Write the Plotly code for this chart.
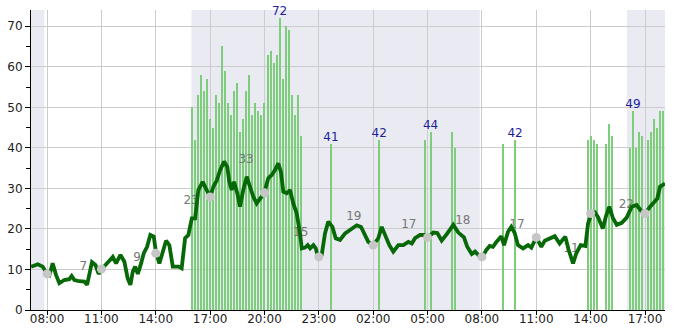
import pandas as pd
import plotly.graph_objects as go

BASE = pd.Timestamp("2024-01-15")

# ---- mean wind line (hours since day-1 midnight, value) ----
line_hours = [7.12, 7.49, 7.76, 8.0, 8.13, 8.31, 8.50, 8.68, 8.95, 9.23, 9.36, 9.51, 9.78, 10.06,
              10.21, 10.33, 10.48, 10.67, 10.85, 11.02, 11.35, 11.63, 11.81, 12.05, 12.27, 12.45,
              12.60, 12.73, 12.86, 13.01, 13.19, 13.34, 13.52, 13.70, 13.89, 14.02, 14.20, 14.39,
              14.57, 14.75, 14.94, 15.25, 15.43, 15.62, 15.80, 15.99, 16.17, 16.35, 16.59, 16.81,
              17.0, 17.18, 17.37, 17.55, 17.77, 17.95, 18.06, 18.19, 18.32, 18.50, 18.65, 18.83,
              19.02, 19.20, 19.39, 19.57, 19.76, 19.99, 20.21, 20.40, 20.58, 20.76, 20.91, 21.04,
              21.23, 21.41, 21.59, 21.78, 21.96, 22.06, 22.24, 22.39, 22.52, 22.70, 22.83, 22.95,
              23.16, 23.34, 23.52, 23.75, 23.93, 24.17, 24.45, 24.82, 25.09, 25.33, 25.55, 25.73,
              26.01, 26.28, 26.47, 26.65, 26.89, 27.11, 27.39, 27.66, 27.94, 28.13, 28.31, 28.59,
              28.81, 29.04, 29.32, 29.54, 29.78, 30.06, 30.42, 30.70, 31.01, 31.19, 31.44, 31.62,
              31.80, 32.03, 32.24, 32.43, 32.61, 32.80, 33.07, 33.22, 33.44, 33.62, 33.81, 33.99,
              34.27, 34.55, 34.73, 35.00, 35.28, 35.47, 35.74, 36.02, 36.29, 36.60, 36.79, 37.03,
              37.21, 37.45, 37.71, 37.86, 38.05, 38.24, 38.42, 38.67, 38.85, 39.03, 39.22, 39.44,
              39.72, 39.99, 40.27, 40.54, 40.76, 41.00, 41.28, 41.55, 41.68, 41.83, 42.10]
line_values = [10.7, 11.3, 10.7, 8.9, 8.6, 11.5, 8.6, 6.6, 7.4, 7.6, 8.4, 7.4, 7.1, 7.0,
               6.2, 9.0, 11.8, 11.1, 8.9, 10.1, 11.9, 13.1, 11.5, 13.6, 11.9, 7.8,
               6.2, 9.4, 10.7, 8.9, 11.5, 14.0, 15.6, 18.5, 18.1, 14.0, 11.5, 14.0,
               17.1, 16.0, 10.7, 10.7, 10.3, 17.7, 18.5, 22.6, 22.6, 29.6, 31.6, 29.6,
               27.9, 30.4, 32.0, 34.5, 36.6, 35.3, 31.6, 29.6, 31.6, 28.8, 25.5, 29.6,
               32.9, 30.4, 27.9, 26.3, 27.5, 28.9, 32.5, 33.3, 34.5, 36.2, 34.0, 29.2,
               28.8, 29.6, 26.3, 23.8, 18.9, 15.2, 15.4, 16.0, 15.2, 16.0, 15.2, 13.1,
               13.6, 18.9, 21.8, 20.5, 17.7, 17.3, 18.9, 20.1, 20.9, 20.5, 18.5, 16.8,
               16.0, 17.7, 20.5, 18.5, 16.0, 14.4, 16.0, 16.0, 16.8, 16.4, 17.7, 18.5,
               18.5, 17.9, 19.1, 19.0, 17.1, 18.7, 21.0, 19.1, 17.9, 15.6, 13.8, 14.4,
               13.6, 13.1, 14.8, 15.8, 15.6, 16.8, 18.2, 16.0, 19.3, 20.5, 19.0, 16.0,
               15.2, 16.0, 15.4, 17.9, 15.6, 17.1, 17.7, 18.2, 16.4, 18.1, 14.8, 11.5,
               14.0, 16.0, 15.8, 21.4, 23.8, 24.1, 22.8, 20.1, 23.2, 25.5, 22.8, 21.0,
               21.5, 22.8, 25.5, 25.9, 24.6, 23.8, 25.5, 27.1, 27.5, 30.4, 31.2]

# ---- gust bars ----
cluster_start = "2024-01-15 16:00"
cluster_values = [50, 42, 53, 58, 54, 57, 47, 45, 53, 51, 65, 59, 51, 48, 54, 56, 44, 47, 54,
                  58, 48, 51, 49, 48, 51, 63, 64, 61, 63, 72, 57, 70, 69, 53, 48, 53, 43]
gust_times = ["2024-01-15 23:40", "2024-01-16 02:20", "2024-01-16 04:50", "2024-01-16 05:10",
              "2024-01-16 06:20", "2024-01-16 06:30", "2024-01-16 09:10", "2024-01-16 09:50",
              "2024-01-16 13:50", "2024-01-16 14:00", "2024-01-16 14:10", "2024-01-16 14:20",
              "2024-01-16 14:50", "2024-01-16 15:00", "2024-01-16 15:10", "2024-01-16 16:10",
              "2024-01-16 16:20", "2024-01-16 16:30", "2024-01-16 16:40", "2024-01-16 16:50",
              "2024-01-16 17:10", "2024-01-16 17:20", "2024-01-16 17:30", "2024-01-16 17:40",
              "2024-01-16 17:50", "2024-01-16 18:00"]
gust_values = [41, 42, 42, 44, 44, 40, 41, 42, 42, 43, 42, 41, 41, 46, 43, 40, 49, 40, 44, 43,
               42, 44, 47, 45, 49, 49]

# ---- 3-hourly points ----
dot_times = ["2024-01-15 08:00", "2024-01-15 11:00", "2024-01-15 14:00", "2024-01-15 17:00",
             "2024-01-15 20:00", "2024-01-15 23:00", "2024-01-16 02:00", "2024-01-16 05:00",
             "2024-01-16 08:00", "2024-01-16 11:00", "2024-01-16 14:00", "2024-01-16 17:00"]
dot_values = [8.9, 10.1, 14.0, 27.9, 28.9, 13.1, 16.0, 17.9, 13.1, 17.9, 23.8, 23.8]

# ---- grey labels ----
avg_times = ["2024-01-15 10:00", "2024-01-15 12:58", "2024-01-15 15:57",
             "2024-01-15 18:59", "2024-01-15 22:00", "2024-01-16 00:56", "2024-01-16 03:58",
             "2024-01-16 06:57", "2024-01-16 09:56", "2024-01-16 12:55", "2024-01-16 15:58"]
avg_values = [10.6, 12.8, 26.9, 37.0, 19.0, 22.9, 20.95, 21.9, 20.95, 15.1, 25.9]
avg_labels = ["7", "9", "23", "33", "15", "19", "17", "18", "17", "11", "22"]

# ---- blue max labels ----
max_times = ["2024-01-15 20:50", "2024-01-15 23:40", "2024-01-16 02:20", "2024-01-16 05:10",
             "2024-01-16 09:50", "2024-01-16 16:20"]
max_values = [72, 41, 42, 44, 42, 49]

# ---- night shading ----
night_start = ["2024-01-15 07:00", "2024-01-15 15:58", "2024-01-16 16:00"]
night_end = ["2024-01-15 07:51", "2024-01-16 07:53", "2024-01-16 19:00"]

x_range = [BASE + pd.Timedelta(hours=7.115), BASE + pd.Timedelta(hours=42.104)]

line_t = BASE + pd.to_timedelta(line_hours, unit="h")
cluster_t = pd.date_range(cluster_start, periods=len(cluster_values), freq="10min")

bar_x = list(cluster_t) + list(pd.to_datetime(gust_times))
bar_y = cluster_values + gust_values

fig = go.Figure()
fig.add_trace(go.Bar(x=bar_x, y=bar_y, width=397400,
                     marker=dict(color="#7dcd7d", line=dict(width=0)), showlegend=False))
fig.add_trace(go.Scatter(x=pd.to_datetime(avg_times), y=avg_values, mode="text", text=avg_labels,
                         textfont=dict(family="DejaVu Sans", size=12, color="#777777"),
                         showlegend=False, cliponaxis=False))
fig.add_trace(go.Scatter(x=line_t, y=line_values, mode="lines",
                         line=dict(color="#066806", width=3.8), showlegend=False))
fig.add_trace(go.Scatter(x=pd.to_datetime(dot_times), y=dot_values, mode="markers",
                         marker=dict(color="#c6c6c6", size=9), showlegend=False))
fig.add_trace(go.Scatter(x=pd.to_datetime(max_times), y=max_values, mode="text",
                         text=[str(v) for v in max_values], textposition="top center",
                         textfont=dict(family="DejaVu Sans", size=12, color="#1e1e9c"),
                         showlegend=False, cliponaxis=False))

shapes = [dict(type="rect", xref="x", yref="paper", x0=s, x1=e, y0=0, y1=1,
               fillcolor="#eaeaf2", line=dict(width=0), layer="below")
          for s, e in zip(night_start, night_end)]

fig.update_layout(
    width=685, height=330,
    margin=dict(l=31, r=20, t=10, b=20, autoexpand=False),
    plot_bgcolor="white", paper_bgcolor="white",
    shapes=shapes, bargap=0,
    font=dict(family="DejaVu Sans", size=12, color="#222222"),
)
fig.update_xaxes(type="date", range=x_range, tickformat="%H:%M", automargin=False,
                 dtick=3 * 3600 * 1000, tick0="2024-01-15 02:00",
                 showgrid=True, gridcolor="#cccccc", gridwidth=1,
                 showline=True, linecolor="black", linewidth=1,
                 ticks="outside", ticklen=4, tickcolor="black", ticklabelstandoff=-6,
                 tickfont=dict(size=12, color="#222222"), zeroline=False)
fig.update_yaxes(range=[0, 74], dtick=10, tick0=0, automargin=False,
                 showgrid=True, gridcolor="#cccccc", gridwidth=1,
                 showline=True, linecolor="black", linewidth=1,
                 ticks="outside", ticklen=5, tickcolor="black",
                 minor=dict(dtick=5, ticks="outside", ticklen=4, tickcolor="black", showgrid=False),
                 tickfont=dict(size=12, color="#222222"), zeroline=False)

fig.write_html("out.html")
